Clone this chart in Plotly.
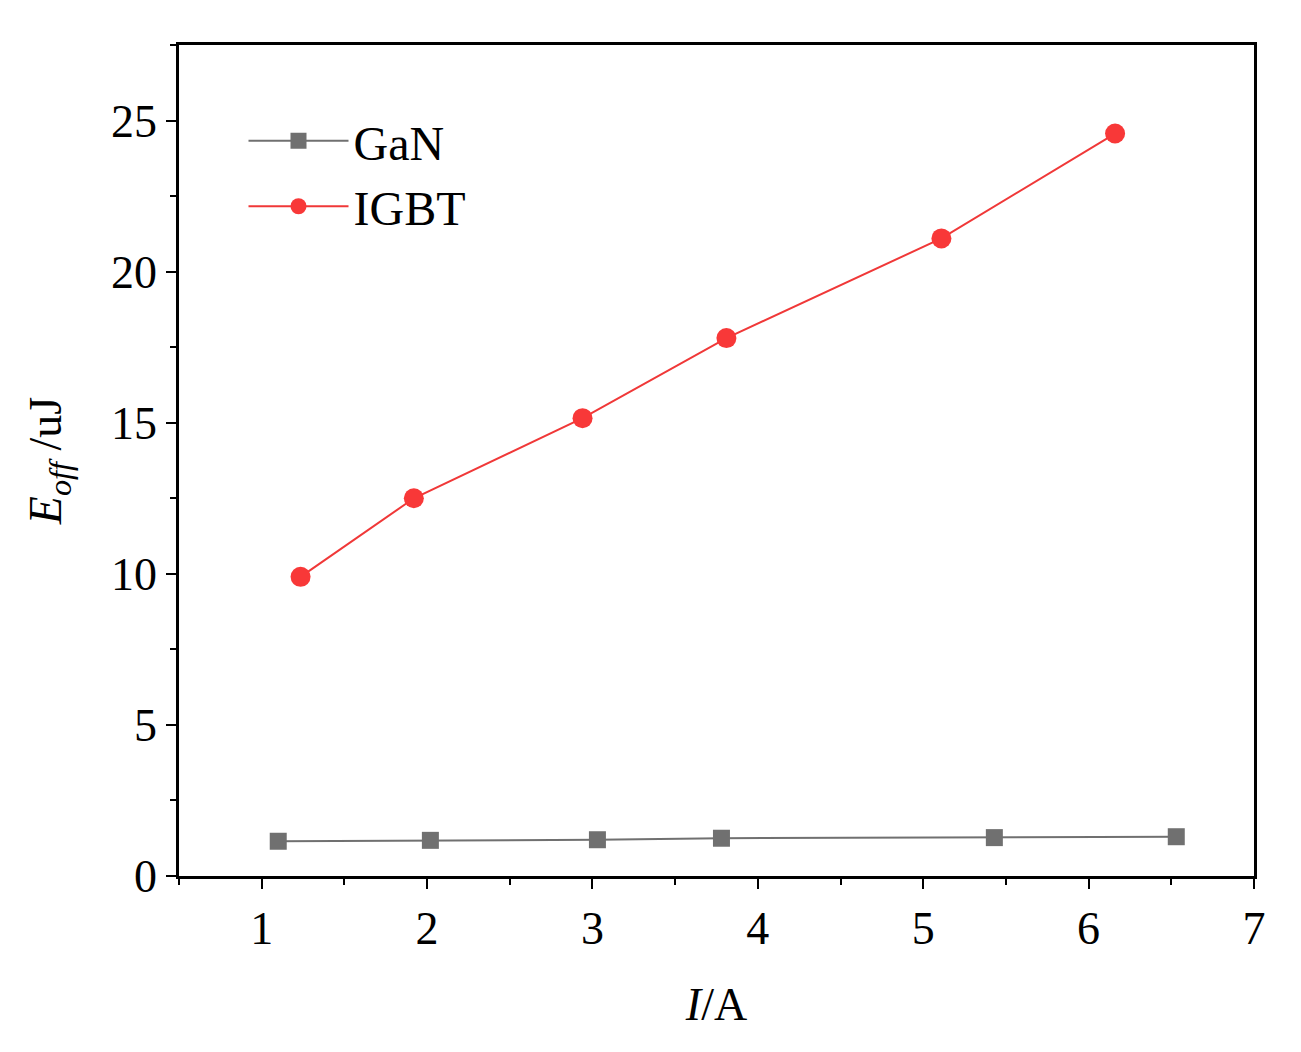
import plotly.graph_objects as go

gan_x = [1.10, 2.02, 3.03, 3.78, 5.43, 6.53]
gan_y = [1.15, 1.18, 1.20, 1.25, 1.27, 1.30]
igbt_x = [1.235, 1.92, 2.94, 3.81, 5.11, 6.16]
igbt_y = [9.9, 12.5, 15.15, 17.8, 21.1, 24.57]

fig = go.Figure()
fig.add_trace(go.Scatter(x=gan_x, y=gan_y, name="GaN", mode="lines+markers",
    line=dict(color="#707070", width=2), marker=dict(symbol="square", size=17, color="#707070")))
fig.add_trace(go.Scatter(x=igbt_x, y=igbt_y, name="IGBT", mode="lines+markers",
    line=dict(color="#f03838", width=2), marker=dict(symbol="circle", size=20, color="#f83838")))

axis_common = dict(showline=True, linecolor="black", linewidth=2.5, mirror=True,
    ticks="outside", ticklen=10, tickwidth=2, tickcolor="black", showgrid=False, zeroline=False,
    tickfont=dict(size=46, family="Liberation Serif", color="black"),
    minor=dict(ticks="outside", ticklen=6, tickwidth=2, tickcolor="black", showgrid=False))

fig.update_xaxes(range=[0.5, 7], dtick=1, tick0=1, minor_dtick=0.5,
    title=dict(text="<i>I</i>/A", font=dict(size=46, family="Liberation Serif", color="black"), standoff=35),
    **axis_common)
fig.update_yaxes(range=[0, 27.5], dtick=5, minor_dtick=2.5,
    title=dict(text="<i>E</i><sub><i>off</i></sub> /uJ", font=dict(size=46, family="Liberation Serif", color="black"), standoff=35),
    **axis_common)

fig.update_layout(width=1301, height=1052, plot_bgcolor="white", paper_bgcolor="white",
    margin=dict(l=171, r=55, t=37, b=184),
    legend=dict(x=0.06, y=0.93, xanchor="left", yanchor="top", bgcolor="rgba(0,0,0,0)",
        font=dict(size=48, family="Liberation Serif", color="black"), itemwidth=100, tracegroupgap=10))
fig.write_html("out.html")
